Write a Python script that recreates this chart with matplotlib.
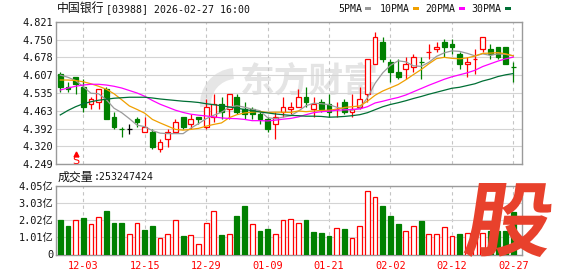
import numpy as np
import matplotlib
matplotlib.use('Agg')
import matplotlib.pyplot as plt
from matplotlib.patches import Rectangle, PathPatch, Wedge
from matplotlib.textpath import TextPath
from matplotlib.font_manager import FontProperties
from matplotlib.transforms import Affine2D

W, H = 578, 276
plt.rcParams['font.family'] = ['DejaVu Sans Mono', 'Noto Sans CJK SC']

# ---- data ----
stock_name = '中国银行'
stock_info = '[03988] 2026-02-27 16:00'
dates = ['12-03', '12-15', '12-29', '01-09', '01-21', '02-02', '02-12', '02-27']
date_pos = [3, 11, 19, 27, 35, 43, 51, 59]
price_labels = ['4.249', '4.320', '4.392', '4.463', '4.535', '4.607', '4.678', '4.750', '4.821']
vol_labels = ['0', '1.01亿', '2.02亿', '3.03亿', '4.05亿']
last_vol = 253247424

opens = [4.61, 4.56, 4.60, 4.56, 4.49, 4.50, 4.55, 4.44, 4.39, 4.39,
         4.43, 4.38, 4.38, 4.31, 4.35, 4.38, 4.44, 4.41, 4.44, 4.40,
         4.44, 4.49, 4.47, 4.52, 4.47, 4.47, 4.45, 4.43, 4.41, 4.46,
         4.47, 4.48, 4.52, 4.47, 4.50, 4.49, 4.47, 4.50, 4.46, 4.48,
         4.53, 4.65, 4.74, 4.66, 4.62, 4.63, 4.64, 4.66, 4.70, 4.71,
         4.74, 4.73, 4.69, 4.65, 4.67, 4.71, 4.71, 4.72, 4.72, 4.64]
highs = [4.62, 4.58, 4.60, 4.59, 4.52, 4.55, 4.56, 4.46, 4.40, 4.41,
         4.44, 4.44, 4.39, 4.35, 4.39, 4.43, 4.44, 4.45, 4.44, 4.51,
         4.53, 4.52, 4.53, 4.53, 4.50, 4.48, 4.46, 4.44, 4.46, 4.52,
         4.50, 4.55, 4.56, 4.52, 4.51, 4.53, 4.50, 4.51, 4.53, 4.56,
         4.67, 4.78, 4.76, 4.67, 4.67, 4.68, 4.69, 4.68, 4.73, 4.74,
         4.75, 4.75, 4.70, 4.68, 4.71, 4.76, 4.73, 4.72, 4.72, 4.66]
lows = [4.54, 4.54, 4.53, 4.46, 4.47, 4.47, 4.43, 4.39, 4.36, 4.37,
        4.40, 4.38, 4.31, 4.30, 4.32, 4.38, 4.39, 4.39, 4.41, 4.39,
        4.42, 4.43, 4.43, 4.45, 4.43, 4.43, 4.41, 4.38, 4.35, 4.44,
        4.45, 4.48, 4.48, 4.44, 4.46, 4.44, 4.44, 4.45, 4.44, 4.47,
        4.50, 4.65, 4.66, 4.58, 4.59, 4.59, 4.62, 4.59, 4.67, 4.70,
        4.68, 4.69, 4.63, 4.60, 4.61, 4.70, 4.67, 4.67, 4.65, 4.58]
closes = [4.56, 4.55, 4.57, 4.48, 4.51, 4.55, 4.43, 4.40, 4.39, 4.39,
          4.42, 4.40, 4.32, 4.34, 4.38, 4.42, 4.40, 4.43, 4.43, 4.48,
          4.49, 4.46, 4.53, 4.46, 4.45, 4.45, 4.43, 4.39, 4.44, 4.48,
          4.48, 4.52, 4.50, 4.49, 4.47, 4.46, 4.47, 4.46, 4.47, 4.51,
          4.67, 4.76, 4.67, 4.62, 4.60, 4.65, 4.68, 4.66, 4.70, 4.72,
          4.72, 4.72, 4.65, 4.66, 4.67, 4.76, 4.69, 4.68, 4.65, 4.64]
# volume in 亿 shares
volumes = [2.03, 1.68, 2.03, 2.15, 1.78, 2.19, 2.57, 1.86, 1.86, 1.24,
           1.84, 1.44, 1.68, 0.95, 1.19, 2.03, 1.09, 1.13, 0.61, 1.84,
           2.55, 1.15, 1.19, 2.27, 2.86, 1.78, 1.38, 1.50, 1.24, 2.03,
           2.11, 1.86, 2.05, 1.35, 1.27, 1.12, 1.57, 1.53, 0.98, 1.70,
           3.76, 3.38, 2.88, 2.29, 1.82, 1.41, 1.70, 2.00, 1.21, 1.21,
           1.62, 1.12, 1.23, 1.30, 1.20, 1.27, 1.37, 1.40, 1.37, 2.53]

ma5 = [4.607, 4.598, 4.585, 4.560, 4.534, 4.532, 4.508, 4.474, 4.456, 4.432,
       4.406, 4.400, 4.384, 4.374, 4.372, 4.372, 4.372, 4.394, 4.412, 4.432,
       4.446, 4.458, 4.478, 4.484, 4.478, 4.470, 4.464, 4.436, 4.432, 4.438,
       4.444, 4.462, 4.484, 4.494, 4.492, 4.488, 4.478, 4.470, 4.466, 4.474,
       4.516, 4.574, 4.616, 4.646, 4.664, 4.660, 4.644, 4.642, 4.658, 4.682,
       4.696, 4.704, 4.702, 4.694, 4.684, 4.692, 4.686, 4.692, 4.690, 4.684]
ma10 = [4.587, 4.587, 4.585, 4.580, 4.572, 4.562, 4.550, 4.532, 4.508, 4.483,
        4.469, 4.454, 4.429, 4.415, 4.402, 4.389, 4.386, 4.389, 4.393, 4.402,
        4.409, 4.415, 4.436, 4.448, 4.455, 4.458, 4.461, 4.457, 4.458, 4.458,
        4.457, 4.463, 4.460, 4.463, 4.465, 4.466, 4.470, 4.477, 4.480, 4.483,
        4.502, 4.526, 4.543, 4.556, 4.569, 4.588, 4.609, 4.629, 4.652, 4.673,
        4.678, 4.674, 4.672, 4.676, 4.683, 4.694, 4.695, 4.697, 4.692, 4.684]
ma20 = [4.547, 4.555, 4.562, 4.567, 4.570, 4.570, 4.567, 4.562, 4.555, 4.545,
        4.535, 4.522, 4.505, 4.490, 4.478, 4.466, 4.457, 4.450, 4.446, 4.443,
        4.439, 4.435, 4.433, 4.432, 4.429, 4.424, 4.424, 4.423, 4.426, 4.430,
        4.433, 4.439, 4.448, 4.456, 4.460, 4.462, 4.466, 4.467, 4.469, 4.471,
        4.480, 4.495, 4.502, 4.510, 4.517, 4.527, 4.540, 4.553, 4.566, 4.578,
        4.590, 4.600, 4.608, 4.616, 4.626, 4.641, 4.652, 4.663, 4.672, 4.679]
ma30 = [4.447, 4.465, 4.480, 4.492, 4.500, 4.506, 4.510, 4.514, 4.516, 4.518,
        4.518, 4.518, 4.515, 4.511, 4.508, 4.505, 4.502, 4.500, 4.497, 4.492,
        4.488, 4.484, 4.479, 4.474, 4.469, 4.464, 4.459, 4.455, 4.451, 4.448,
        4.445, 4.444, 4.442, 4.442, 4.441, 4.438, 4.439, 4.441, 4.444, 4.448,
        4.456, 4.468, 4.480, 4.489, 4.496, 4.504, 4.513, 4.521, 4.530, 4.538,
        4.546, 4.554, 4.558, 4.565, 4.572, 4.583, 4.591, 4.601, 4.608, 4.613]

ma_names = ['5PMA', '10PMA', '20PMA', '30PMA']
ma_colors = ['#9a9a9a', '#f0a000', '#ff00ff', '#006f35']
s_marker_pos = 2

RED, GREEN = '#ff0000', '#008000'
GRID, SPINE = '#d4d4d4', '#9a9a9a'


def fx(x):
    return x / W


def fy(y):
    return 1 - y / H


fig = plt.figure(figsize=(W / 100, H / 100), dpi=100)
fig.patch.set_facecolor('white')
L, R = 55.7, 522.3
ax = fig.add_axes([fx(L), fy(164.3), (R - L) / W, (164.3 - 21.7) / H])
axv = fig.add_axes([fx(L), fy(254.5), (R - L) / W, (254.5 - 186) / H])

n = len(closes)
x = np.arange(n)
bw = 0.62
for i in range(n):
    o, h, l, c = opens[i], highs[i], lows[i], closes[i]
    prev = closes[i - 1] if i else o
    if c > o:
        col = RED
    elif c < o:
        col = GREEN
    else:
        col = RED if c > prev else (GREEN if c < prev else 'black')
    ax.vlines(i, l, h, color=col, lw=0.9, zorder=2)
    if c == o:
        ax.hlines(c, i - bw / 2, i + bw / 2, color=col, lw=0.9, zorder=3)
    else:
        fc = 'white' if col == RED else col
        ax.add_patch(Rectangle((i - bw / 2, min(o, c)), bw, abs(c - o),
                               fc=fc, ec=col, lw=0.9, zorder=3))
    vcol = col if i == 0 else (RED if c >= prev else GREEN)
    vfc = 'white' if vcol == RED else vcol
    axv.add_patch(Rectangle((i - bw / 2, 0), bw, volumes[i],
                            fc=vfc, ec=vcol, lw=0.9, zorder=3))

for vals, colr in zip([ma5, ma10, ma20, ma30], ma_colors):
    ax.plot(x, vals, color=colr, lw=0.9, zorder=4)

# S marker
ax.plot(s_marker_pos, 4.290, marker='^', ms=3.5, color=RED, zorder=5, clip_on=False)
ax.text(s_marker_pos, 4.263, 'S', color=RED, fontsize=8, ha='center', va='center',
        family='DejaVu Sans', zorder=5)

xlim = (-0.594, 60.17)
for a in (ax, axv):
    a.set_xlim(*xlim)
    a.set_xticks(date_pos)
    a.set_axisbelow(True)
    a.grid(axis='y', color=GRID, lw=0.8, ls='-')
    a.grid(axis='x', color='#c4c4c4', lw=0.8, ls=(0, (3, 3)))
    for sp in a.spines.values():
        sp.set_color(SPINE)
        sp.set_linewidth(1.0)
    a.tick_params(length=0, labelsize=7.4, pad=1.8, labelcolor='#111111')

ax.set_ylim(4.249, 4.821)
ax.set_yticks(np.linspace(4.249, 4.821, len(price_labels)))
ax.set_yticklabels(price_labels)
ax.tick_params(axis='x', labelbottom=False)

axv.set_ylim(0, 4.05)
axv.set_yticks(np.linspace(0, 4.05, len(vol_labels)))
axv.set_yticklabels(vol_labels)
axv.set_xticklabels(dates)
axv.tick_params(axis='x', labelcolor=RED, pad=4.5, labelsize=7.4)

# watermark
ax.text(fx(309), fy(81), '东方财富', transform=fig.transFigure, fontsize=25,
        color='#e4e4e4', family='Noto Sans CJK SC', weight='bold',
        ha='center', va='center', zorder=0.3)
ax.add_patch(Wedge((236, H - 104), 36, 95, 185, width=11, transform=None,
                   fc='#e6e6e6', ec='none', zorder=0.3))

# title, volume caption
fig.text(fx(56.7), fy(8.7), stock_name, fontsize=8.6, family='Noto Sans CJK SC',
         va='center', ha='left', color='#111111')
fig.text(fx(106), fy(8.7), stock_info, fontsize=7.1, va='center', ha='left',
         color='#111111')
fig.text(fx(57.3), fy(177.5), '成交量', fontsize=8.6, family='Noto Sans CJK SC',
         va='center', ha='left', color='#111111')
fig.text(fx(93.5), fy(177.5), ':%d' % last_vol, fontsize=7.1, va='center',
         ha='left', color='#111111')

# legend
leg_x = [338.3, 379.3, 425.0, 471.7]
mark_x = [365.0, 413.3, 459.3, 505.0]
for name, colr, tx, mx in zip(ma_names, ma_colors, leg_x, mark_x):
    fig.text(fx(tx), fy(8.8), name, fontsize=7.1, va='center', ha='left',
             color='#111111')
    fig.add_artist(Rectangle((fx(mx), fy(10.3)), 6 / W, 3 / H,
                             transform=fig.transFigure, fc=colr, ec='none'))

# big 股 logo bottom right
fp = FontProperties(family='Noto Sans CJK SC', weight='bold')
tp = TextPath((0, 0), '股', size=100, prop=fp)
bb = tp.get_extents()
logo_h = 74
logo_w = 94 - 0.15 * logo_h
tr = (Affine2D().translate(-bb.x0, -bb.y0)
      .scale(logo_w / bb.width, logo_h / bb.height)
      .skew_deg(8.5, 0)
      .translate(463, H - 257)
      .scale(1 / W, 1 / H)) + fig.transFigure
fig.add_artist(PathPatch(tp, transform=tr, fc='#e8412c', ec='none', zorder=5))

fig.savefig('out.png', dpi=100, facecolor='white')
